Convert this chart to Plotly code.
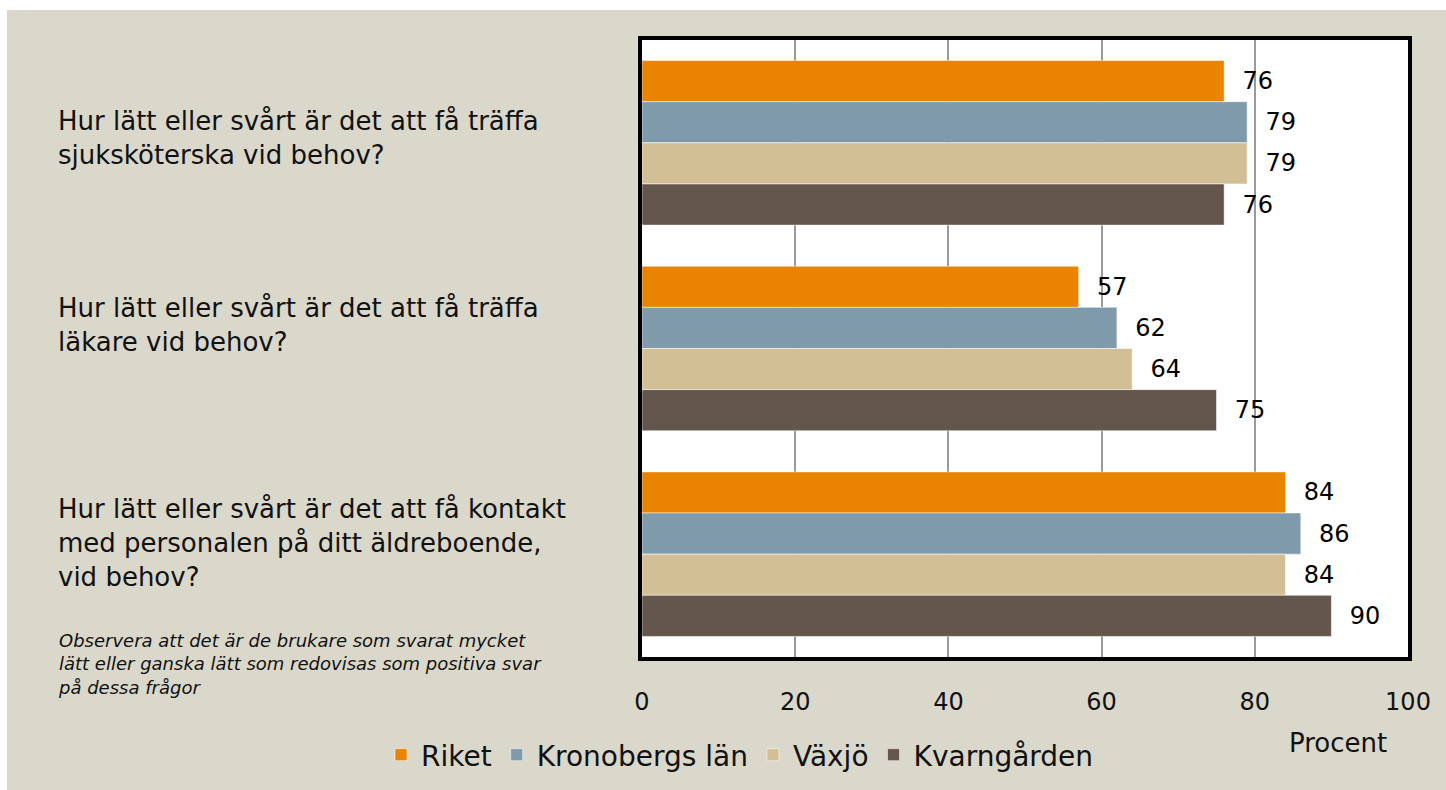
import plotly.graph_objects as go

categories = [
    "Hur lätt eller svårt är det att få träffa<br>sjuksköterska vid behov?",
    "Hur lätt eller svårt är det att få träffa<br>läkare vid behov?",
    "Hur lätt eller svårt är det att få kontakt<br>med personalen på ditt äldreboende,<br>vid behov?",
]
label_centers_px = [138, 325, 543]
series_names = ["Riket", "Kronobergs län", "Växjö", "Kvarngården"]
riket = [76, 57, 84]
kronoberg = [79, 62, 86]
vaxjo = [79, 64, 84]
kvarngarden = [76, 75, 90]
colors = ["#E98300", "#7F9AAB", "#D3BF96", "#64564B"]
x_ticks = [0, 20, 40, 60, 80, 100]

W, H = 1446, 790
L, R, T, B = 642, 38, 40, 133
pw, ph = W - L - R, H - T - B

def px_x(p):
    return (p - L) / pw

def px_y(p):
    return (H - B - p) / ph

FONT = "DejaVu Sans"
fig = go.Figure()
for name, vals, col in zip(series_names, [riket, kronoberg, vaxjo, kvarngarden], colors):
    fig.add_trace(go.Bar(
        y=categories, x=vals, name=name, orientation="h",
        marker=dict(color=col, line=dict(color="rgba(255,255,255,0.5)", width=1)),
        text=["  " + str(v) for v in vals], textposition="outside",
        textfont=dict(family=FONT, size=24, color="black"),
        cliponaxis=False, hoverinfo="skip",
    ))

shapes = [
    dict(type="rect", xref="paper", yref="paper", x0=px_x(7), x1=px_x(W + 5), y0=px_y(H + 5), y1=px_y(10),
         fillcolor="#DAD7CB", line=dict(width=0), layer="below"),
    dict(type="rect", xref="x domain", yref="y domain", x0=0, x1=1, y0=0, y1=1,
         fillcolor="white", line=dict(width=0), layer="below"),
]

annotations = [
    dict(x=px_x(56), y=px_y(cy), xref="paper", yref="paper", text=c, showarrow=False,
         xanchor="left", yanchor="middle", align="left",
         font=dict(family=FONT, size=26, color="#111"))
    for c, cy in zip(categories, label_centers_px)
]
annotations.append(dict(
    x=px_x(56), y=px_y(628), xref="paper", yref="paper",
    text="<i>Observera att det är de brukare som svarat mycket<br>lätt eller ganska lätt som redovisas som positiva svar<br>på dessa frågor</i>",
    showarrow=False, xanchor="left", yanchor="top", align="left",
    font=dict(family=FONT, size=18, color="#111")))
annotations.append(dict(
    x=px_x(1338), y=px_y(743), xref="paper", yref="paper", text="Procent",
    showarrow=False, xanchor="center", yanchor="middle",
    font=dict(family=FONT, size=26, color="#111")))

fig.update_layout(
    width=W, height=H,
    margin=dict(l=L, r=R, t=T, b=B, autoexpand=False),
    paper_bgcolor="white", plot_bgcolor="rgba(0,0,0,0)",
    barmode="group", bargap=0.2, bargroupgap=0,
    shapes=shapes, annotations=annotations,
    font=dict(family=FONT, color="#111"),
    legend=dict(orientation="h", x=px_x(740), y=px_y(755), xanchor="center", yanchor="middle",
                font=dict(family=FONT, size=28, color="#111"), bgcolor="rgba(0,0,0,0)",
                itemwidth=30, tracegroupgap=0),
    xaxis=dict(range=[0, 100], tickvals=x_ticks, showgrid=True, gridcolor="#9A9A9A", gridwidth=1.5,
               showline=True, linecolor="black", linewidth=4, mirror=True,
               ticks="outside", ticklen=20, tickcolor="rgba(0,0,0,0)",
               tickfont=dict(family=FONT, size=24, color="#111"), zeroline=False, layer="above traces"),
    yaxis=dict(autorange="reversed", showticklabels=False, showgrid=False,
               showline=True, linecolor="black", linewidth=4, mirror=True, ticks=""),
    showlegend=True,
)

fig.write_html("out.html", config={"displayModeBar": False},
               post_script="document.body.style.margin='0';document.body.style.overflow='hidden';")
